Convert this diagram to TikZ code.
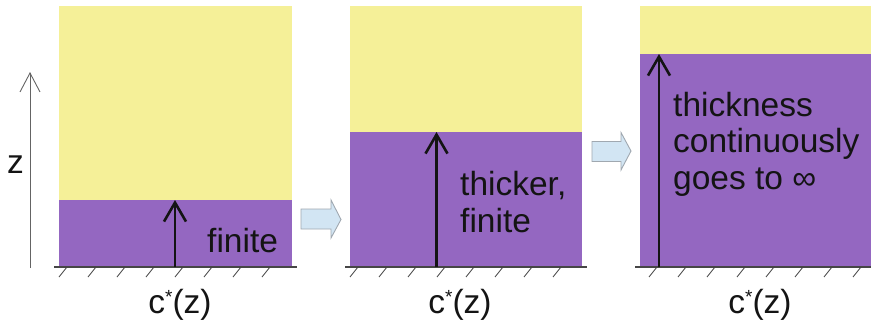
\documentclass[tikz,border=0pt]{standalone}
\usepackage{fontspec}
\setmainfont{Liberation Sans}
\usetikzlibrary{arrows.meta}

\definecolor{layeryellow}{RGB}{245,240,152}
\definecolor{layerpurple}{RGB}{148,103,193}
\definecolor{stepfill}{RGB}{210,229,243}
\definecolor{stepedge}{RGB}{160,168,176}
\definecolor{inkdark}{RGB}{20,20,20}
\definecolor{axisgray}{RGB}{100,100,100}

% concentration label c*(z) with a small raised star
\newcommand{\concz}{c\raisebox{10pt}{\fontsize{19}{19}\selectfont *}(z)}

\begin{document}
\begin{tikzpicture}[x=1pt,y=-1pt,
  lbl/.style={inner sep=0pt, text=inkdark, font=\fontsize{33.5}{36.5}\selectfont},
  wall/.style={draw=axisgray!70!black, line width=1.4pt},
  hatchline/.style={draw=inkdark!80, line width=0.8pt},
  growarrow/.style={draw=inkdark, line width=2.6pt, -{Straight Barb[length=19pt,width=22pt]}},
  zaxis/.style={draw=axisgray, line width=0.9pt, -{Straight Barb[length=19pt,width=20pt]}},
  stepblock/.style={fill=stepfill, draw=stepedge, line width=0.9pt, line join=miter}
]
\useasboundingbox (0,0) rectangle (871,324);

% vertical axis
\coordinate (zlow) at (30,268);
\coordinate (zhigh) at (30,72);
\draw[zaxis] (zlow) -- (zhigh);
\node[lbl, anchor=base] (zlabel) at (15.5,173) {z};

% panel 1: thin finite layer
\fill[layeryellow] (59,6) rectangle (292,200);
\fill[layerpurple] (59,200) rectangle (292,267);
\draw[wall] (54,267) -- (297,267);
\foreach \x in {59,88,117,146,175,204,233,262}
  \draw[hatchline] (\x,277) -- ++(8,-10);
\coordinate (b1) at (175,267);
\coordinate (t1) at (175,200);
\draw[growarrow] (b1) -- (t1);
\node[lbl, anchor=base west] (fin1) at (207,252) {finite};
\node[lbl, anchor=base] (c1) at (180,313) {\concz};

% step arrow 1 -> 2
\draw[stepblock] (301,209) -- (331,209) -- (331,200) -- (341,219.5)
  -- (331,238) -- (331,229) -- (301,229) -- cycle;

% panel 2: thicker finite layer
\fill[layeryellow] (350,6) rectangle (582,132);
\fill[layerpurple] (350,132) rectangle (582,267);
\draw[wall] (345,267) -- (587,267);
\foreach \x in {350,379,408,437,466,495,524,553}
  \draw[hatchline] (\x,277) -- ++(8,-10);
\coordinate (b2) at (436.5,267);
\coordinate (t2) at (436.5,132);
\draw[growarrow] (b2) -- (t2);
% multi-line labels are anchored at the baseline of their last line
\node[lbl, anchor=base west, align=left] (fin2) at (460,232) {thicker,\\finite};
\node[lbl, anchor=base] (c2) at (460,313) {\concz};

% step arrow 2 -> 3
\draw[stepblock] (592,141.5) -- (621,141.5) -- (621,132.5) -- (631,151)
  -- (621,170) -- (621,161.5) -- (592,161.5) -- cycle;

% panel 3: layer grows without bound
\fill[layeryellow] (640,6) rectangle (871,54);
\fill[layerpurple] (640,54) rectangle (871,267);
\draw[wall] (635,267) -- (871,267);
\foreach \x in {649,678,707,737,766,795,824,853}
  \draw[hatchline] (\x,277) -- ++(8,-10);
\coordinate (b3) at (659,267);
\coordinate (t3) at (659,54);
\draw[growarrow] (b3) -- (t3);
\node[lbl, anchor=base west, align=left] (inf3) at (673,189) {thickness\\continuously\\goes to ∞};
\node[lbl, anchor=base] (c3) at (760,313) {\concz};
\end{tikzpicture}
\end{document}
